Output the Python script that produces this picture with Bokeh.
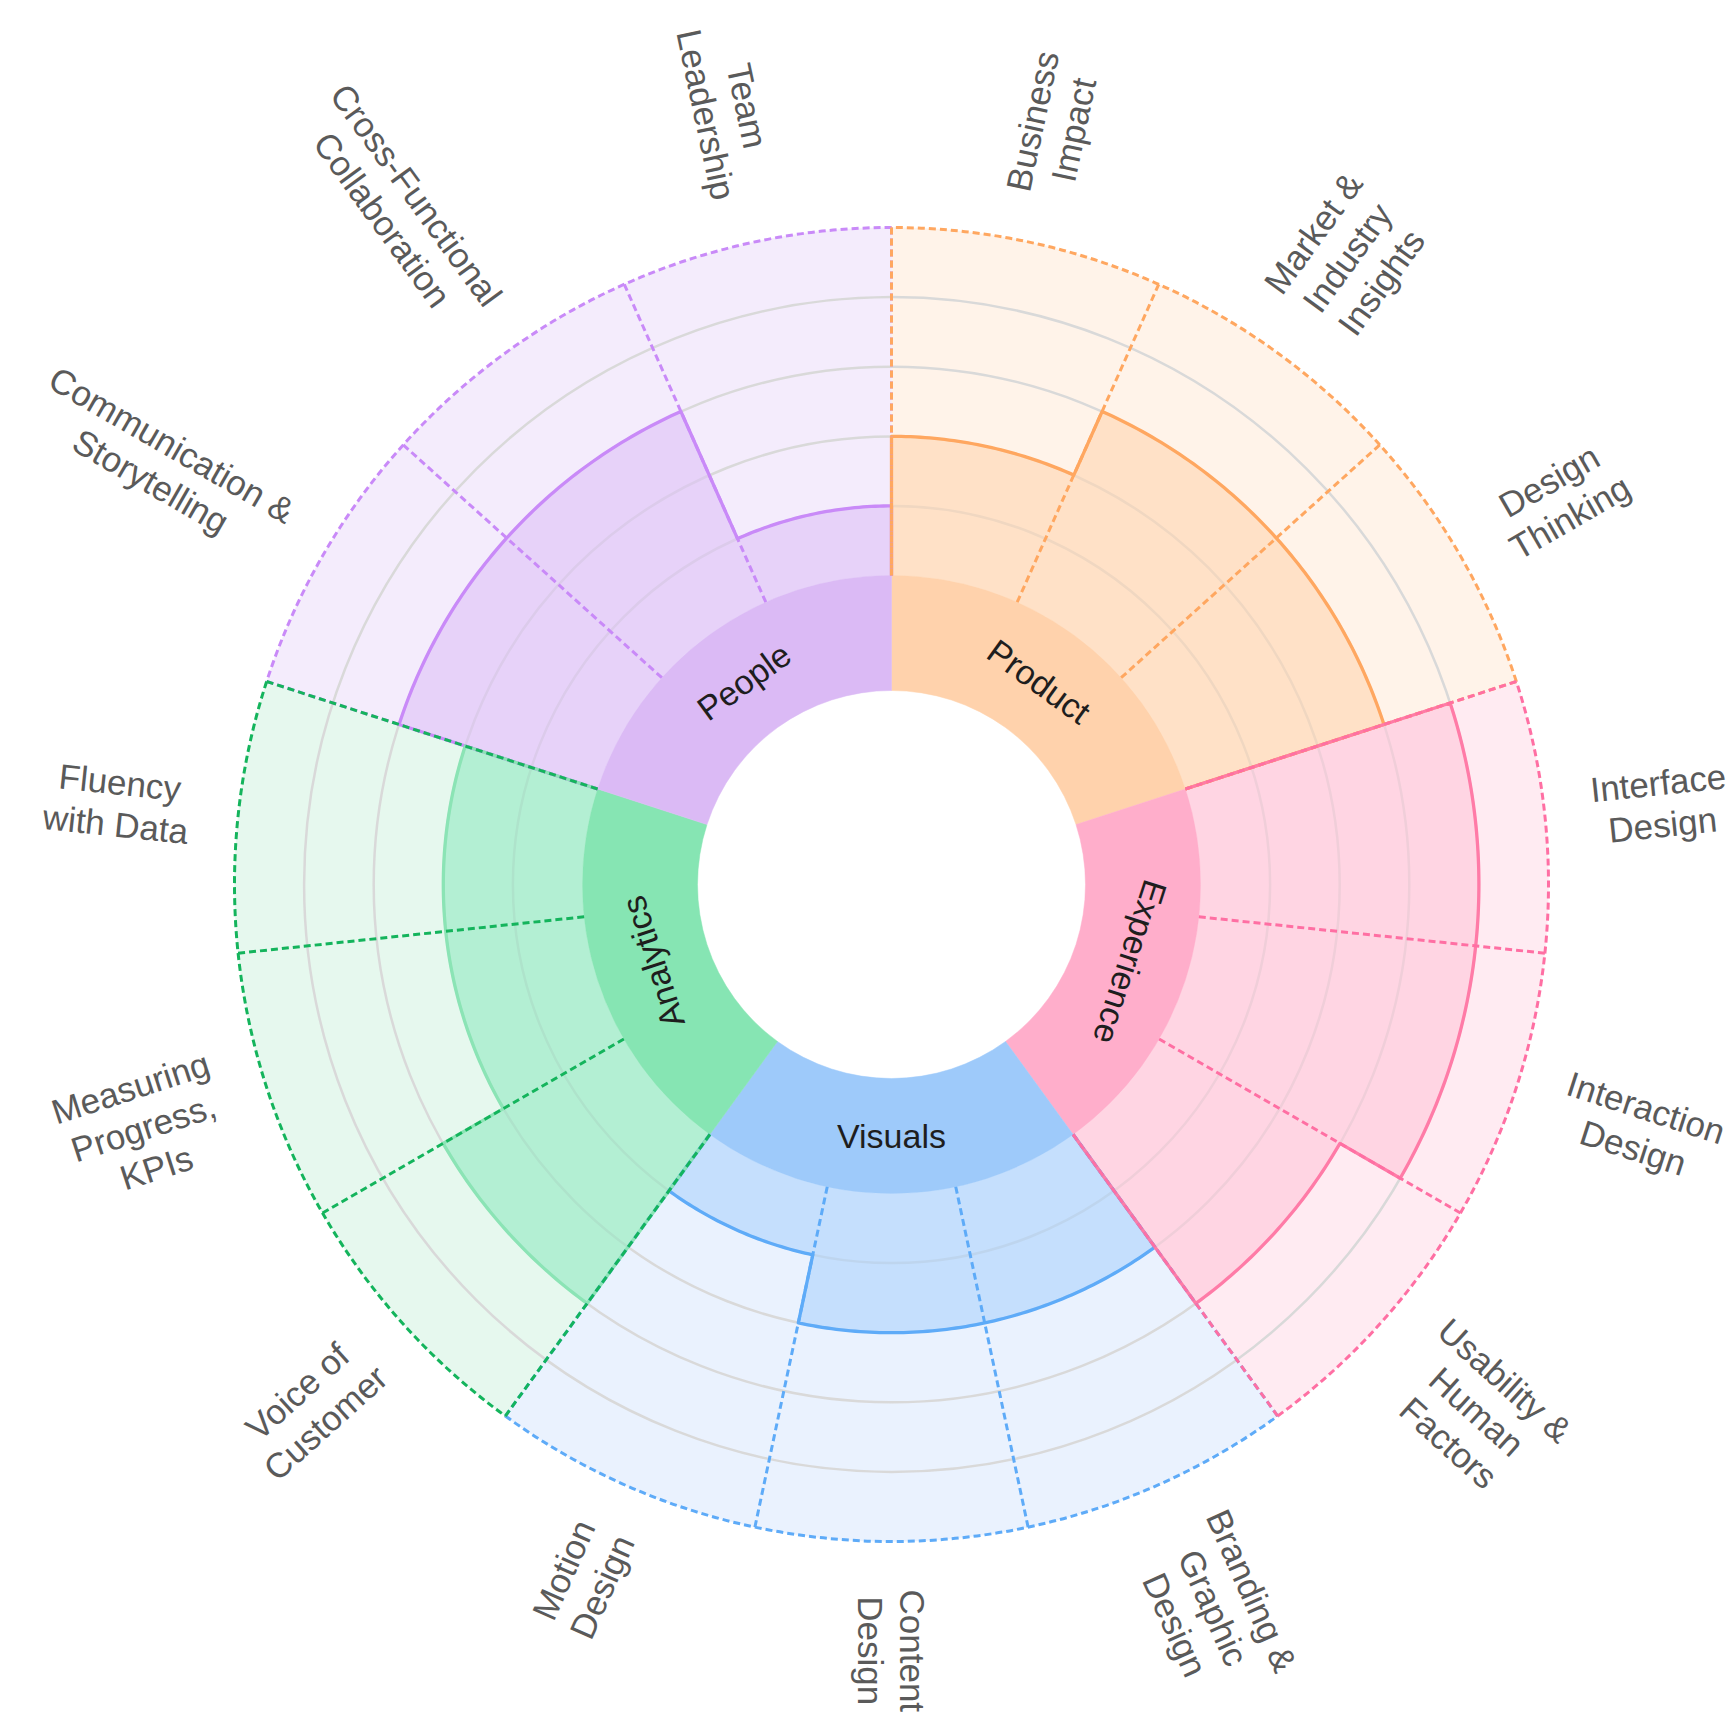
import math
import numpy as np
from bokeh.plotting import figure
from bokeh.models import Range1d
from bokeh.embed import file_html
from bokeh.resources import INLINE
from bokeh.core.properties import value

# ---------------- data ----------------
categories = ["Product", "Experience", "Visuals", "Analytics", "People"]
product_skills = ["Business\nImpact", "Market &\nIndustry\nInsights", "Design\nThinking"]
experience_skills = ["Interface\nDesign", "Interaction\nDesign", "Usability &\nHuman\nFactors"]
visuals_skills = ["Branding &\nGraphic\nDesign", "Content\nDesign", "Motion\nDesign"]
analytics_skills = ["Voice of\nCustomer", "Measuring\nProgress,\nKPIs", "Fluency\nwith Data"]
people_skills = ["Communication &\nStorytelling", "Cross-Functional\nCollaboration", "Team\nLeadership"]
skills = [product_skills, experience_skills, visuals_skills, analytics_skills, people_skills]

product_levels = [2, 3, 3]
experience_levels = [4, 4, 3]
visuals_levels = [2, 2, 1]
analytics_levels = [3, 2, 2]
people_levels = [3, 3, 1]
levels = [product_levels, experience_levels, visuals_levels, analytics_levels, people_levels]
max_level = 5

ring_colors = ["#FFD2AC", "#FFAECB", "#9ECAFA", "#86E5B3", "#DBBAF5"]
bar_colors = ["#FFD5B0", "#FFC6D9", "#ABD2FB", "#91E9C1", "#DDC2F7"]
bg_colors = ["#FFF3E9", "#FFEBF2", "#EAF2FE", "#E6F8EE", "#F4ECFC"]
line_colors = ["#FFA760", "#FF7BA7", "#5EABF8", "#8BE4B5", "#C98AF8"]
dash_colors = ["#FFA760", "#FF6FA3", "#5EABF8", "#14B45C", "#C98AF8"]

# ---------------- geometry ----------------
R_HOLE = 194.0
R_RING = 309.0
STEP = 69.6
R_OUT = R_RING + max_level * STEP
R_LABEL0 = 705.0
R_CAT = 251.0
CX, CY = 891.0, 884.0
W_PX, H_PX = 1734, 1730
SKILL_FS = 35
CAT_FS = 34
LINE_H = 42.0

n_cat = len(categories)
cat_span = 360.0 / n_cat
skill_span = cat_span / 3


def rad(d):
    return math.radians(d)


def bangle(theta):
    # clockwise-from-north degrees -> bokeh math angle (radians)
    return math.pi / 2 - rad(theta)


def pol(r, theta):
    return r * math.sin(rad(theta)), r * math.cos(rad(theta))


AW = {' ': 278, '&': 667, ',': 278, '-': 333, 'A': 667, 'B': 667, 'C': 722, 'D': 722,
      'F': 611, 'G': 778, 'H': 722, 'I': 278, 'K': 667, 'L': 556, 'M': 833, 'P': 667,
      'S': 667, 'T': 611, 'U': 722, 'V': 667, 'a': 556, 'b': 556, 'c': 500, 'd': 556,
      'e': 556, 'f': 278, 'g': 556, 'h': 556, 'i': 222, 'k': 500, 'l': 222, 'm': 833,
      'n': 556, 'o': 556, 'p': 556, 'r': 333, 's': 500, 't': 278, 'u': 556, 'v': 500,
      'w': 722, 'x': 500, 'y': 500}


def text_w(s, fs):
    return sum(AW.get(c, 556) for c in s) / 1000.0 * fs


p = figure(width=W_PX, height=H_PX,
           x_range=Range1d(-CX, W_PX - CX),
           y_range=Range1d(CY - H_PX, CY),
           output_backend="svg", toolbar_location=None, min_border=0)
p.axis.visible = False
p.xgrid.visible = False
p.ygrid.visible = False
p.outline_line_color = None
p.background_fill_color = "white"
p.border_fill_color = "white"

# background wedges
for i in range(n_cat):
    t0 = i * cat_span
    p.annular_wedge(x=0, y=0, inner_radius=R_RING, outer_radius=R_OUT,
                    start_angle=bangle(t0 + cat_span), end_angle=bangle(t0),
                    fill_color=bg_colors[i], line_color=bg_colors[i], line_width=0.5)

# grid circles
for k in range(1, max_level):
    p.arc(x=0, y=0, radius=R_RING + k * STEP, start_angle=0, end_angle=2 * math.pi,
          line_color="#D9D9D9", line_width=2.5)

# skill bars
for i in range(n_cat):
    for j in range(3):
        t0 = i * cat_span + j * skill_span
        p.annular_wedge(x=0, y=0, inner_radius=R_RING,
                        outer_radius=R_RING + levels[i][j] * STEP,
                        start_angle=bangle(t0 + skill_span), end_angle=bangle(t0),
                        fill_color=bar_colors[i], fill_alpha=0.6, line_color=None)

# category ring
for i in range(n_cat):
    t0 = i * cat_span
    p.annular_wedge(x=0, y=0, inner_radius=R_HOLE, outer_radius=R_RING,
                    start_angle=bangle(t0 + cat_span), end_angle=bangle(t0),
                    fill_color=ring_colors[i], line_color=ring_colors[i], line_width=0.5)

draw_order = [4, 0, 2, 1, 3]

# bar outlines
for i in draw_order:
    t0 = i * cat_span
    xs, ys = [], []
    x, y = pol(R_RING, t0)
    xs.append(x); ys.append(y)
    for j in range(3):
        r = R_RING + levels[i][j] * STEP
        for t in np.linspace(t0 + j * skill_span, t0 + (j + 1) * skill_span, 40):
            x, y = pol(r, t)
            xs.append(x); ys.append(y)
    x, y = pol(R_RING, t0 + cat_span)
    xs.append(x); ys.append(y)
    p.line(xs, ys, line_color=line_colors[i], line_width=3.3, line_join="round")

# dashed boundaries and outer arcs
for i in draw_order:
    t0 = i * cat_span
    x0s, y0s, x1s, y1s = [], [], [], []
    for k in range(4):
        t = t0 + k * skill_span
        a, b = pol(R_RING, t)
        c, d = pol(R_OUT, t)
        x0s.append(a); y0s.append(b); x1s.append(c); y1s.append(d)
    p.segment(x0=x0s, y0=y0s, x1=x1s, y1=y1s, line_color=dash_colors[i],
              line_width=3, line_dash="7 4")
    p.arc(x=0, y=0, radius=R_OUT, start_angle=bangle(t0 + cat_span), end_angle=bangle(t0),
          line_color=dash_colors[i], line_width=3, line_dash="7 4")

# skill labels: each line placed on its own, block centred on the sector's mid-angle
lx, ly, lt, la = [], [], [], []
for i in range(n_cat):
    for j in range(3):
        th = i * cat_span + (j + 0.5) * skill_span
        lines = skills[i][j].split("\n")
        maxw = max(text_w(s, SKILL_FS) for s in lines)
        rc = R_LABEL0 + maxw / 2
        bx, by = pol(rc, th)
        rot = 90 - th
        if th > 180:
            rot += 180
        ux, uy = -math.sin(rad(rot)), math.cos(rad(rot))
        n = len(lines)
        for k, s in enumerate(lines):
            off = ((n - 1) / 2 - k) * LINE_H
            lx.append(bx + ux * off); ly.append(by + uy * off)
            lt.append(s); la.append(rad(rot))
p.text(x=lx, y=ly, text=lt, angle=la, text_align="center", text_baseline="middle",
       text_font=value("Liberation Sans"), text_font_size=f"{SKILL_FS}px",
       text_color="#5A5A5A")

# category labels
cx_, cy_, ct, ca = [], [], [], []
for i in range(n_cat):
    th = (i + 0.5) * cat_span
    x, y = pol(R_CAT, th)
    rot = -th
    if 120 < th < 240:
        rot += 180
    cx_.append(x); cy_.append(y); ct.append(categories[i]); ca.append(rad(rot))
p.text(x=cx_, y=cy_, text=ct, angle=ca, text_align="center", text_baseline="middle",
       text_font=value("Liberation Sans"), text_font_size=f"{CAT_FS}px",
       text_color="#1E1E1E")

open("out.html", "w").write(file_html(p, INLINE))
